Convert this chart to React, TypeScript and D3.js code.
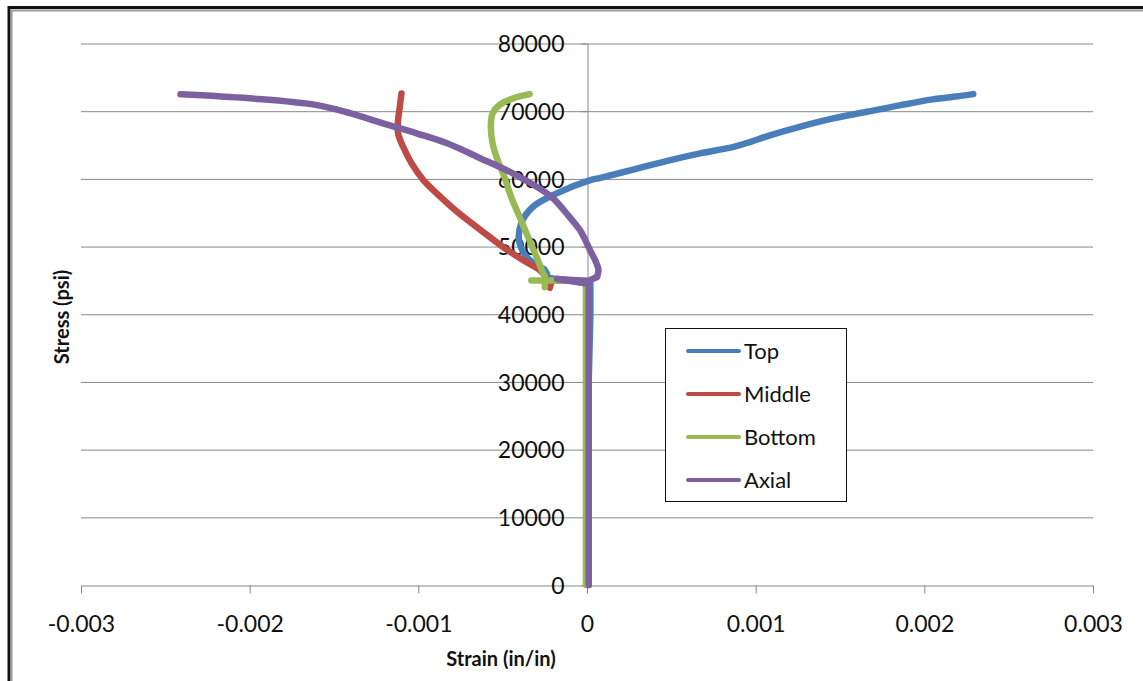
import * as d3 from "d3"
import { useEffect, useRef } from "react"

const W = 1143
const H = 681

// strain (in/in) and stress (psi)
const topStrain = [0.00001, 0.00001, 0.00002, 0.00002, -0.0001, -0.00023, -0.00025, -0.00034, -0.0004, -0.00039, -0.00032, -0.00018, 0.00002, 0.00008, 0.00028, 0.00047, 0.00067, 0.00087, 0.00097, 0.00107, 0.00126, 0.00146, 0.00166, 0.00186, 0.00205, 0.00225, 0.00229]
const topStress = [0, 30000, 40000, 44500, 45000, 45350, 46530, 48000, 50470, 53430, 55880, 57860, 59820, 60160, 61400, 62620, 63760, 64740, 65480, 66320, 67690, 68930, 69910, 70900, 71740, 72370, 72520]

const midStrain = [0, 0, -0.0001, -0.00021, -0.00022, -0.00024, -0.00028, -0.00038, -0.0005, -0.00063, -0.00077, -0.00088, -0.00097, -0.00104, -0.00109, -0.00112, -0.00112, -0.00111, -0.0011]
const midStress = [0, 44500, 45000, 45000, 43900, 45300, 46530, 48000, 49970, 52430, 55140, 57600, 59820, 62280, 64740, 66720, 68680, 70650, 72620]

const botStrain = [-0.000006, -0.000006, -0.00033, -0.00025, -0.00025, -0.00025, -0.00026, -0.0003, -0.00035, -0.0004, -0.00045, -0.00049, -0.00053, -0.00056, -0.00057, -0.00056, -0.00052, -0.00044, -0.00034]
const botStress = [0, 45000, 45000, 45000, 44000, 45600, 46040, 48490, 51440, 54400, 57350, 60310, 62770, 65240, 67690, 69670, 70900, 71880, 72520]

const axStrain = [0.00001, 0.00001, -0.000178, 0.000006, 0.000059, 0.000068, 0.000053, 0.000018, -0.000042, -0.000113, -0.00019, -0.00024, -0.00044, -0.00063, -0.00083, -0.00101, -0.00121, -0.0014, -0.0016, -0.002, -0.00241]
const axStress = [0, 44500, 45200, 44900, 45500, 46530, 47710, 49480, 52430, 54650, 56860, 57900, 60810, 63020, 65250, 66720, 68200, 69670, 70900, 71900, 72500]

const seriesNames = ["Top", "Middle", "Bottom", "Axial"]
const seriesColors = ["#4A7EBB", "#BE4B48", "#98B954", "#7D60A0"]
const xTicks = [-0.003, -0.002, -0.001, 0, 0.001, 0.002, 0.003]
const yTicks = [0, 10000, 20000, 30000, 40000, 50000, 60000, 70000, 80000]

const font = "Lato, 'Open Sans', sans-serif"

export default function App() {
  const ref = useRef<SVGSVGElement>(null)

  useEffect(() => {
    const svg = d3.select(ref.current)
    svg.selectAll("*").remove()

    const x = d3.scaleLinear().domain([-0.003, 0.003]).range([81, 1093])
    const y = d3.scaleLinear().domain([0, 80000]).range([585, 43.5])

    // frame
    svg.append("rect").attr("x", 0).attr("y", 0).attr("width", W).attr("height", H).attr("fill", "#fff")
    svg.append("rect").attr("x", 9).attr("y", 7.5).attr("width", W + 20).attr("height", H + 20)
      .attr("fill", "none").attr("stroke", "#111").attr("stroke-width", 3)
    svg.append("path").attr("d", `M11.5,${H}V10.5H${W}`).attr("fill", "none").attr("stroke", "#999").attr("stroke-width", 2)

    // gridlines
    svg.append("g").selectAll("line").data(yTicks.slice(1)).join("line")
      .attr("x1", x(-0.003)).attr("x2", x(0.003))
      .attr("y1", d => y(d) + 0.5).attr("y2", d => y(d) + 0.5)
      .attr("stroke", "#888").attr("stroke-width", 1)

    // x axis
    const xa = svg.append("g").attr("transform", `translate(0,${y(0) + 0.5})`)
      .call(d3.axisBottom(x).tickValues(xTicks).tickSize(8).tickSizeOuter(0).tickPadding(22)
        .tickFormat(d => (+d === 0 ? "0" : (+d).toFixed(3))))
    xa.select(".domain").attr("stroke", "#888")
    xa.selectAll(".tick line").attr("stroke", "#888")
    xa.selectAll(".tick text").attr("font-family", font).attr("font-size", 23).attr("fill", "#111")

    // y axis at strain 0
    const ya = svg.append("g").attr("transform", `translate(${x(0) + 0.5},0)`)
      .call(d3.axisLeft(y).tickValues(yTicks).tickSize(6).tickSizeOuter(0).tickPadding(17)
        .tickFormat(d => String(d)))
    ya.select(".domain").attr("stroke", "#888")
    ya.selectAll(".tick line").attr("stroke", "#888")
    ya.selectAll(".tick text").attr("font-family", font).attr("font-size", 23).attr("fill", "#111")
      .attr("dy", "0.36em")

    const straight = d3.line<[number, number]>().x(d => x(d[0])).y(d => y(d[1]))
    const smooth = d3.line<[number, number]>().x(d => x(d[0])).y(d => y(d[1]))
      .curve(d3.curveCatmullRom.alpha(0.5))

    const all = [
      d3.zip(topStrain, topStress),
      d3.zip(midStrain, midStress),
      d3.zip(botStrain, botStress),
      d3.zip(axStrain, axStress),
    ] as [number, number][][]

    // the jumble round 45000 psi is drawn straight, the rest smoothed
    all.forEach((pts, i) => {
      const k = d3.max(pts.map((p, j) => (p[1] < 45700 ? j : 0))) ?? 0
      const g = svg.append("g")
        .attr("fill", "none")
        .attr("stroke", seriesColors[i])
        .attr("stroke-width", 6.5)
        .attr("stroke-linecap", "round")
        .attr("stroke-linejoin", "round")
      g.append("path").attr("d", straight(pts.slice(0, k + 1)))
      g.append("path").attr("d", smooth(pts.slice(k)))
    })

    // axis titles
    svg.append("text").attr("x", 501).attr("y", 666).attr("text-anchor", "middle")
      .attr("font-family", font).attr("font-size", 20).attr("font-weight", "bold").attr("fill", "#111")
      .text("Strain (in/in)")
    svg.append("text").attr("transform", "translate(69,317) rotate(-90)").attr("text-anchor", "middle")
      .attr("font-family", font).attr("font-size", 20).attr("font-weight", "bold").attr("fill", "#111")
      .text("Stress (psi)")

    // legend
    const lg = svg.append("g")
    lg.append("rect").attr("x", 665.5).attr("y", 328.5).attr("width", 181).attr("height", 173)
      .attr("fill", "#fff").attr("stroke", "#111").attr("stroke-width", 1)
    const rows = lg.selectAll("g").data(seriesNames).join("g")
      .attr("transform", (_, i) => `translate(0,${351 + i * 43})`)
    rows.append("line").attr("x1", 688).attr("x2", 739).attr("y1", 0).attr("y2", 0)
      .attr("stroke", (_, i) => seriesColors[i]).attr("stroke-width", 4).attr("stroke-linecap", "round")
    rows.append("text").attr("x", 744).attr("dy", "0.36em")
      .attr("font-family", font).attr("font-size", 22).attr("fill", "#111")
      .text(d => d)
  }, [])

  return (
    <svg ref={ref} width={W} height={H} style={{ position: "absolute", left: 0, top: 0 }} />
  )
}
